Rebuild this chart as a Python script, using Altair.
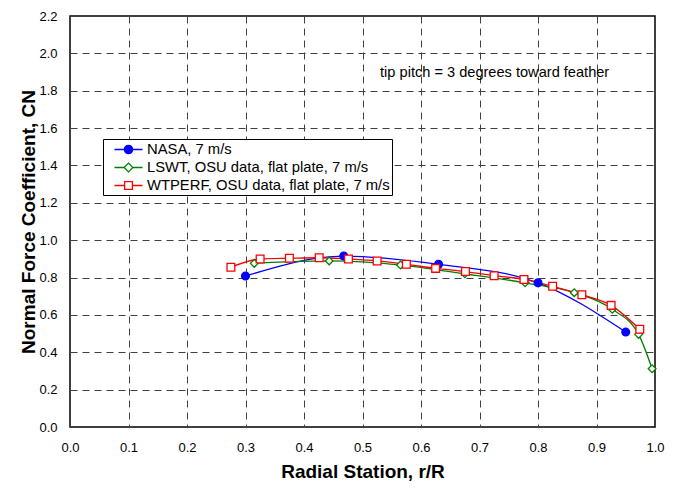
import altair as alt
import pandas as pd

# ---- data ----
series_names = ["NASA, 7 m/s",
                "LSWT, OSU data, flat plate, 7 m/s",
                "WTPERF, OSU data, flat plate, 7 m/s"]

nasa_r = [0.300, 0.468, 0.630, 0.800, 0.950]
nasa_cn = [0.808, 0.915, 0.871, 0.772, 0.508]

lswt_r = [0.315, 0.443, 0.565, 0.675, 0.778, 0.862, 0.927, 0.972, 0.995]
lswt_cn = [0.876, 0.889, 0.867, 0.820, 0.772, 0.719, 0.630, 0.496, 0.312]

wtperf_r = [0.275, 0.325, 0.375, 0.426, 0.476, 0.525, 0.575, 0.625,
            0.676, 0.725, 0.776, 0.825, 0.875, 0.925, 0.974]
wtperf_cn = [0.855, 0.899, 0.903, 0.906, 0.899, 0.889, 0.871, 0.849,
             0.832, 0.810, 0.790, 0.753, 0.708, 0.651, 0.523]

x_ticks = [0.0, 0.1, 0.2, 0.3, 0.4, 0.5, 0.6, 0.7, 0.8, 0.9, 1.0]
y_ticks = [0.0, 0.2, 0.4, 0.6, 0.8, 1.0, 1.2, 1.4, 1.6, 1.8, 2.0, 2.2]

annotation_text = ["tip pitch = 3 degrees toward feather"]
annotation_r = [0.53]
annotation_cn = [1.895]

colors = ["#0000FF", "#008000", "#FF0000"]
fills = ["#0000FF", "#FFFFFF", "#FFFFFF"]
plot_shapes = ["circle", "diamond", "square"]
legend_shapes = [
    "M-1.87,0H1.87M-0.55,0A0.55,0.55,0,1,0,0.55,0A0.55,0.55,0,1,0,-0.55,0Z",
    "M-1.87,0H-0.58M0.58,0H1.87M-0.58,0L0,-0.58L0.58,0L0,0.58Z",
    "M-1.87,0H-0.52M0.52,0H1.87M-0.52,-0.52H0.52V0.52H-0.52Z",
]

FONT = "Liberation Sans"

rows = []
for name, rs, cs in zip(series_names, [nasa_r, lswt_r, wtperf_r],
                        [nasa_cn, lswt_cn, wtperf_cn]):
    for i, (r, c) in enumerate(zip(rs, cs)):
        rows.append({"series": name, "r": r, "cn": c, "order": i})
df = pd.DataFrame(rows)

ann = pd.DataFrame({"text": annotation_text, "r": annotation_r, "cn": annotation_cn})

x_enc = alt.X("r:Q", scale=alt.Scale(domain=[0, 1], nice=False, zero=False),
              axis=alt.Axis(values=x_ticks, tickCount=20, format=".1f",
                            title="Radial Station, r/R", labelFlush=False,
                            grid=True, ticks=False, domain=False,
                            labelPadding=14, titlePadding=8))
y_enc = alt.Y("cn:Q", scale=alt.Scale(domain=[0, 2.2], nice=False),
              axis=alt.Axis(values=y_ticks, tickCount=20, format=".1f",
                            title="Normal Force Coefficient, CN", labelFlush=False,
                            grid=True, ticks=False, domain=False,
                            labelPadding=13, titlePadding=0))

base = alt.Chart(df)

lines = base.mark_line(interpolate="monotone", strokeWidth=1.3).encode(
    x=x_enc, y=y_enc,
    color=alt.Color("series:N", scale=alt.Scale(domain=series_names, range=colors), legend=None),
    detail="series:N",
    order="order:Q",
)

points = base.mark_point(opacity=1, size=60, strokeWidth=1.3).encode(
    x=x_enc, y=y_enc,
    shape=alt.Shape("series:N", scale=alt.Scale(domain=series_names, range=plot_shapes), legend=None),
    color=alt.Color("series:N", scale=alt.Scale(domain=series_names, range=colors), legend=None),
    fill=alt.Fill("series:N", scale=alt.Scale(domain=series_names, range=fills), legend=None),
)

legend_layer = base.transform_filter("false").mark_point(opacity=1, size=225, strokeWidth=1.3).encode(
    x=x_enc, y=y_enc,
    shape=alt.Shape("series:N", scale=alt.Scale(domain=series_names, range=legend_shapes),
                    legend=alt.Legend(title=None)),
    color=alt.Color("series:N", scale=alt.Scale(domain=series_names, range=colors),
                    legend=alt.Legend(title=None)),
    fill=alt.Fill("series:N", scale=alt.Scale(domain=series_names, range=fills),
                  legend=alt.Legend(title=None)),
)

text = alt.Chart(ann).mark_text(align="left", baseline="middle", font=FONT,
                                fontSize=14.6, color="black").encode(
    x=alt.X("r:Q"), y=alt.Y("cn:Q"), text="text:N")

chart = alt.layer(lines, points, legend_layer, text).resolve_scale(
    shape="independent", color="independent", fill="independent"
).properties(
    width=585, height=411,
    autosize=alt.AutoSizeParams(type="none"),
    padding={"left": 62, "top": 8, "right": 11, "bottom": 54},
).configure_view(
    stroke="black", strokeWidth=1.5
).configure_axis(
    labelFont=FONT, labelFontSize=13, labelColor="black",
    titleFont=FONT, titleFontSize=19, titleFontWeight="bold", titleColor="black",
    gridColor="#404040", gridDash=[7, 5], gridWidth=1, gridOpacity=1,
).configure_legend(
    orient="none", legendX=33, legendY=123,
    strokeColor="black", strokeWidth=1, fillColor="white",
    padding=2, labelFont=FONT, labelFontSize=14.8, labelColor="black",
    symbolSize=225, symbolStrokeWidth=1.3, rowPadding=2,
    symbolOffset=15, labelOffset=10, labelLimit=400,
)

chart.save("out.html", embed_options={"renderer": "svg", "actions": False})
